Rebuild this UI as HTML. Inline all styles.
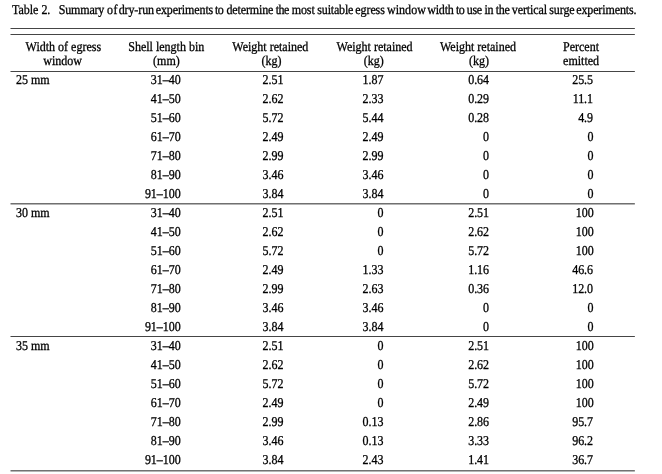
<!DOCTYPE html>
<html><head><meta charset="utf-8"><title>Table 2</title>
<style>
html,body{margin:0;padding:0;background:#fff;}
body{width:662px;height:474px;position:relative;overflow:hidden;font-family:"Liberation Serif",serif;font-size:13.5px;line-height:16px;color:#000;text-rendering:geometricPrecision;-webkit-text-stroke:0.3px #000;}
.t,.c,.r{position:absolute;white-space:pre;transform:scaleX(0.889);}
.t{transform-origin:0 0;}
.c{text-align:center;width:160px;transform-origin:50% 0;}
.r{text-align:right;width:100px;transform-origin:100% 0;letter-spacing:-0.056px;}
.l{position:absolute;left:10px;width:625px;height:1px;background:#454545;}
.l::before{content:"";position:absolute;left:0;top:0;width:1px;height:1px;background:rgba(255,255,255,0.5);}
.l::after{content:"";position:absolute;right:0;top:0;width:1px;height:1px;background:rgba(255,255,255,0.15);}
</style></head><body>
<div class="cap" style="position:absolute;left:11.71px;top:2px;white-space:pre;transform:scaleX(0.889);transform-origin:0 0"><span class="w" style="letter-spacing:-0.035px">Table</span><span style="letter-spacing:0.296px"> </span><span class="w" style="letter-spacing:-0.294px">2.</span><span style="letter-spacing:6.425px"> </span><span class="w" style="letter-spacing:-0.213px">Summary</span><span style="letter-spacing:-0.115px"> </span><span class="w" style="letter-spacing:0.444px">of</span><span style="letter-spacing:-2.509px"> </span><span class="w" style="letter-spacing:-0.106px">dry-run</span><span style="letter-spacing:-1.473px"> </span><span class="w" style="letter-spacing:-0.116px">experiments</span><span style="letter-spacing:-1.479px"> </span><span class="w" style="letter-spacing:-0.461px">to</span><span style="letter-spacing:-0.006px"> </span><span class="w" style="letter-spacing:-0.144px">determine</span><span style="letter-spacing:-0.539px"> </span><span class="w" style="letter-spacing:-0.562px">the</span><span style="letter-spacing:-0.333px"> </span><span class="w" style="letter-spacing:-0.09px">most</span><span style="letter-spacing:-0.441px"> </span><span class="w" style="letter-spacing:-0.195px">suitable</span><span style="letter-spacing:-1.025px"> </span><span class="w" style="letter-spacing:-0.107px">egress</span><span style="letter-spacing:-0.929px"> </span><span class="w" style="letter-spacing:0.05px">window</span><span style="letter-spacing:-1.911px"> </span><span class="w" style="letter-spacing:-0.2px">width</span><span style="letter-spacing:-0.743px"> </span><span class="w" style="letter-spacing:-0.549px">to</span><span style="letter-spacing:-0.808px"> </span><span class="w" style="letter-spacing:-0.334px">use</span><span style="letter-spacing:-0.258px"> </span><span class="w" style="letter-spacing:-0.562px">in</span><span style="letter-spacing:-0.141px"> </span><span class="w" style="letter-spacing:-0.415px">the</span><span style="letter-spacing:-0.744px"> </span><span class="w" style="letter-spacing:-0.084px">vertical</span><span style="letter-spacing:-1.018px"> </span><span class="w" style="letter-spacing:-0.093px">surge</span><span style="letter-spacing:-1.557px"> </span><span class="w" style="letter-spacing:-0.135px">experiments.</span></div>
<div class="l" style="top:28px"></div>
<div class="l" style="top:34px"></div>
<div class="l" style="top:71px"></div>
<div class="l" style="top:203px;background:#707070"></div>
<div class="l" style="top:204px;background:#b4b4b4"></div>
<div class="l" style="top:336px"></div>
<div class="l" style="top:470px;background:#727272"></div>
<div class="l" style="top:471px;background:#b4b4b4"></div>
<div class="c" style="left:-17px;transform:translateX(0.3px) scaleX(0.889);top:39px;letter-spacing:0px">Width of egress</div><div class="c" style="left:-18px;transform:translateX(0.7px) scaleX(0.889);top:53px;letter-spacing:0px">window</div>
<div class="c" style="left:86px;transform:translateX(0.25px) scaleX(0.889);top:39px;letter-spacing:0px">Shell length bin</div><div class="c" style="left:86px;transform:translateX(0.4px) scaleX(0.889);top:53px;letter-spacing:0px">(mm)</div>
<div class="c" style="left:190px;transform:translateX(0.35px) scaleX(0.889);top:39px;letter-spacing:0px">Weight retained</div><div class="c" style="left:191px;transform:translateX(0.6px) scaleX(0.889);top:53px;letter-spacing:0px">(kg)</div>
<div class="c" style="left:294px;transform:translateX(0.55px) scaleX(0.889);top:39px;letter-spacing:0px">Weight retained</div><div class="c" style="left:293px;transform:translateX(0.65px) scaleX(0.889);top:53px;letter-spacing:0px">(kg)</div>
<div class="c" style="left:398px;top:39px;letter-spacing:0px">Weight retained</div><div class="c" style="left:399px;transform:translateX(0.1px) scaleX(0.889);top:53px;letter-spacing:0px">(kg)</div>
<div class="c" style="left:501px;top:39px;letter-spacing:0px">Percent</div><div class="c" style="left:501px;transform:translateX(0.1px) scaleX(0.889);top:53px;letter-spacing:0px">emitted</div>
<div class="t" style="left:16px;top:72px">25 mm</div><div class="r" style="left:80px;transform:translateX(0.6px) scaleX(0.889);top:72px">31–40</div><div class="r" style="left:183px;transform:translateX(0.4px) scaleX(0.889);top:72px">2.51</div><div class="r" style="left:283px;transform:translateX(0.4px) scaleX(0.889);top:72px">1.87</div><div class="r" style="left:389px;top:72px">0.64</div><div class="r" style="left:493px;top:72px">25.5</div>
<div class="r" style="left:80px;transform:translateX(0.6px) scaleX(0.889);top:91px">41–50</div><div class="r" style="left:183px;transform:translateX(0.4px) scaleX(0.889);top:91px">2.62</div><div class="r" style="left:283px;transform:translateX(0.4px) scaleX(0.889);top:91px">2.33</div><div class="r" style="left:389px;top:91px">0.29</div><div class="r" style="left:493px;top:91px">11.1</div>
<div class="r" style="left:80px;transform:translateX(0.6px) scaleX(0.889);top:110px">51–60</div><div class="r" style="left:183px;transform:translateX(0.4px) scaleX(0.889);top:110px">5.72</div><div class="r" style="left:283px;transform:translateX(0.4px) scaleX(0.889);top:110px">5.44</div><div class="r" style="left:389px;top:110px">0.28</div><div class="r" style="left:493px;top:110px">4.9</div>
<div class="r" style="left:80px;transform:translateX(0.6px) scaleX(0.889);top:129px">61–70</div><div class="r" style="left:183px;transform:translateX(0.4px) scaleX(0.889);top:129px">2.49</div><div class="r" style="left:283px;transform:translateX(0.4px) scaleX(0.889);top:129px">2.49</div><div class="r" style="left:389px;top:129px">0</div><div class="r" style="left:493px;transform:translateX(0.5px) scaleX(0.889);top:129px">0</div>
<div class="r" style="left:80px;transform:translateX(0.6px) scaleX(0.889);top:148px">71–80</div><div class="r" style="left:183px;transform:translateX(0.4px) scaleX(0.889);top:148px">2.99</div><div class="r" style="left:283px;transform:translateX(0.4px) scaleX(0.889);top:148px">2.99</div><div class="r" style="left:389px;top:148px">0</div><div class="r" style="left:493px;transform:translateX(0.5px) scaleX(0.889);top:148px">0</div>
<div class="r" style="left:80px;transform:translateX(0.6px) scaleX(0.889);top:167px">81–90</div><div class="r" style="left:183px;transform:translateX(0.4px) scaleX(0.889);top:167px">3.46</div><div class="r" style="left:283px;transform:translateX(0.4px) scaleX(0.889);top:167px">3.46</div><div class="r" style="left:389px;top:167px">0</div><div class="r" style="left:493px;transform:translateX(0.5px) scaleX(0.889);top:167px">0</div>
<div class="r" style="left:80px;transform:translateX(0.6px) scaleX(0.889);top:186px">91–100</div><div class="r" style="left:183px;transform:translateX(0.4px) scaleX(0.889);top:186px">3.84</div><div class="r" style="left:283px;transform:translateX(0.4px) scaleX(0.889);top:186px">3.84</div><div class="r" style="left:389px;top:186px">0</div><div class="r" style="left:493px;transform:translateX(0.5px) scaleX(0.889);top:186px">0</div>
<div class="t" style="left:16px;top:205px">30 mm</div><div class="r" style="left:80px;transform:translateX(0.6px) scaleX(0.889);top:205px">31–40</div><div class="r" style="left:183px;transform:translateX(0.4px) scaleX(0.889);top:205px">2.51</div><div class="r" style="left:283px;transform:translateX(0.4px) scaleX(0.889);top:205px">0</div><div class="r" style="left:389px;top:205px">2.51</div><div class="r" style="left:493px;transform:translateX(0.7px) scaleX(0.889);top:205px">100</div>
<div class="r" style="left:80px;transform:translateX(0.6px) scaleX(0.889);top:224px">41–50</div><div class="r" style="left:183px;transform:translateX(0.4px) scaleX(0.889);top:224px">2.62</div><div class="r" style="left:283px;transform:translateX(0.4px) scaleX(0.889);top:224px">0</div><div class="r" style="left:389px;top:224px">2.62</div><div class="r" style="left:493px;transform:translateX(0.7px) scaleX(0.889);top:224px">100</div>
<div class="r" style="left:80px;transform:translateX(0.6px) scaleX(0.889);top:243px">51–60</div><div class="r" style="left:183px;transform:translateX(0.4px) scaleX(0.889);top:243px">5.72</div><div class="r" style="left:283px;transform:translateX(0.4px) scaleX(0.889);top:243px">0</div><div class="r" style="left:389px;top:243px">5.72</div><div class="r" style="left:493px;transform:translateX(0.7px) scaleX(0.889);top:243px">100</div>
<div class="r" style="left:80px;transform:translateX(0.6px) scaleX(0.889);top:262px">61–70</div><div class="r" style="left:183px;transform:translateX(0.4px) scaleX(0.889);top:262px">2.49</div><div class="r" style="left:283px;transform:translateX(0.4px) scaleX(0.889);top:262px">1.33</div><div class="r" style="left:389px;top:262px">1.16</div><div class="r" style="left:493px;top:262px">46.6</div>
<div class="r" style="left:80px;transform:translateX(0.6px) scaleX(0.889);top:281px">71–80</div><div class="r" style="left:183px;transform:translateX(0.4px) scaleX(0.889);top:281px">2.99</div><div class="r" style="left:283px;transform:translateX(0.4px) scaleX(0.889);top:281px">2.63</div><div class="r" style="left:389px;top:281px">0.36</div><div class="r" style="left:493px;top:281px">12.0</div>
<div class="r" style="left:80px;transform:translateX(0.6px) scaleX(0.889);top:300px">81–90</div><div class="r" style="left:183px;transform:translateX(0.4px) scaleX(0.889);top:300px">3.46</div><div class="r" style="left:283px;transform:translateX(0.4px) scaleX(0.889);top:300px">3.46</div><div class="r" style="left:389px;top:300px">0</div><div class="r" style="left:493px;transform:translateX(0.5px) scaleX(0.889);top:300px">0</div>
<div class="r" style="left:80px;transform:translateX(0.6px) scaleX(0.889);top:319px">91–100</div><div class="r" style="left:183px;transform:translateX(0.4px) scaleX(0.889);top:319px">3.84</div><div class="r" style="left:283px;transform:translateX(0.4px) scaleX(0.889);top:319px">3.84</div><div class="r" style="left:389px;top:319px">0</div><div class="r" style="left:493px;transform:translateX(0.5px) scaleX(0.889);top:319px">0</div>
<div class="t" style="left:16px;top:338px">35 mm</div><div class="r" style="left:80px;transform:translateX(0.6px) scaleX(0.889);top:338px">31–40</div><div class="r" style="left:183px;transform:translateX(0.4px) scaleX(0.889);top:338px">2.51</div><div class="r" style="left:283px;transform:translateX(0.4px) scaleX(0.889);top:338px">0</div><div class="r" style="left:389px;top:338px">2.51</div><div class="r" style="left:493px;transform:translateX(0.7px) scaleX(0.889);top:338px">100</div>
<div class="r" style="left:80px;transform:translateX(0.6px) scaleX(0.889);top:357px">41–50</div><div class="r" style="left:183px;transform:translateX(0.4px) scaleX(0.889);top:357px">2.62</div><div class="r" style="left:283px;transform:translateX(0.4px) scaleX(0.889);top:357px">0</div><div class="r" style="left:389px;top:357px">2.62</div><div class="r" style="left:493px;transform:translateX(0.7px) scaleX(0.889);top:357px">100</div>
<div class="r" style="left:80px;transform:translateX(0.6px) scaleX(0.889);top:376px">51–60</div><div class="r" style="left:183px;transform:translateX(0.4px) scaleX(0.889);top:376px">5.72</div><div class="r" style="left:283px;transform:translateX(0.4px) scaleX(0.889);top:376px">0</div><div class="r" style="left:389px;top:376px">5.72</div><div class="r" style="left:493px;transform:translateX(0.7px) scaleX(0.889);top:376px">100</div>
<div class="r" style="left:80px;transform:translateX(0.6px) scaleX(0.889);top:395px">61–70</div><div class="r" style="left:183px;transform:translateX(0.4px) scaleX(0.889);top:395px">2.49</div><div class="r" style="left:283px;transform:translateX(0.4px) scaleX(0.889);top:395px">0</div><div class="r" style="left:389px;top:395px">2.49</div><div class="r" style="left:493px;transform:translateX(0.7px) scaleX(0.889);top:395px">100</div>
<div class="r" style="left:80px;transform:translateX(0.6px) scaleX(0.889);top:414px">71–80</div><div class="r" style="left:183px;transform:translateX(0.4px) scaleX(0.889);top:414px">2.99</div><div class="r" style="left:283px;transform:translateX(0.4px) scaleX(0.889);top:414px">0.13</div><div class="r" style="left:389px;top:414px">2.86</div><div class="r" style="left:493px;top:414px">95.7</div>
<div class="r" style="left:80px;transform:translateX(0.6px) scaleX(0.889);top:433px">81–90</div><div class="r" style="left:183px;transform:translateX(0.4px) scaleX(0.889);top:433px">3.46</div><div class="r" style="left:283px;transform:translateX(0.4px) scaleX(0.889);top:433px">0.13</div><div class="r" style="left:389px;top:433px">3.33</div><div class="r" style="left:493px;top:433px">96.2</div>
<div class="r" style="left:80px;transform:translateX(0.6px) scaleX(0.889);top:452px">91–100</div><div class="r" style="left:183px;transform:translateX(0.4px) scaleX(0.889);top:452px">3.84</div><div class="r" style="left:283px;transform:translateX(0.4px) scaleX(0.889);top:452px">2.43</div><div class="r" style="left:389px;top:452px">1.41</div><div class="r" style="left:493px;top:452px">36.7</div>
</body></html>
